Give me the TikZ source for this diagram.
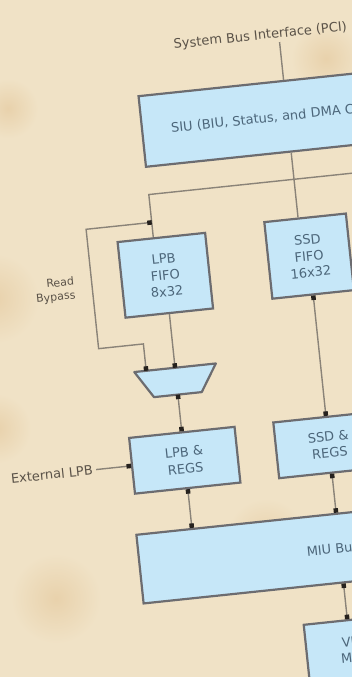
\documentclass[tikz,border=0pt]{standalone}
\usepackage{fontspec}
\setmainfont{DejaVu Sans}
\usetikzlibrary{arrows.meta,positioning}

\definecolor{paper}{RGB}{240,226,198}
\definecolor{stain}{RGB}{226,196,150}
\definecolor{boxfill}{RGB}{198,231,248}
\definecolor{boxedge}{RGB}{108,108,112}
\definecolor{wirecol}{RGB}{138,131,120}
\definecolor{boxtext}{RGB}{76,102,122}
\definecolor{labtext}{RGB}{90,82,72}
\definecolor{pincol}{RGB}{38,34,30}

\begin{document}
\begin{tikzpicture}[
  x=1pt, y=1pt, >={Square[length=4.5pt,width=4.5pt,color=pincol]},
  box/.style={draw=boxedge, line width=2.2pt, fill=boxfill, text=boxtext,
              font=\fontsize{13}{16.5}\selectfont, align=center, inner sep=2pt},
  lab/.style={text=labtext, font=\fontsize{13}{15}\selectfont},
  wire/.style={draw=wirecol, line width=1.4pt}
]
% paper
\useasboundingbox (-176,-338.5) rectangle (176,338.5);
\fill[paper] (-176,-338.5) rectangle (176,338.5);
\clip (-176,-338.5) rectangle (176,338.5);
\foreach \sx/\sy/\sr in {-182/40/45, -180/-90/35, -168/230/30, -120/-260/45, 90/-200/40, 150/280/35}
  \shade[inner color=stain!55!paper, outer color=paper] (\sx,\sy) circle (\sr);

\begin{scope}[transform canvas={rotate=6}]
\node[lab, anchor=west] (sysbus) at (25,292) {System Bus Interface (PCI)};
\node[box, anchor=north west, text width=282pt, align=left, inner xsep=29pt,
      minimum height=71pt] (siu) at (-13,246) {SIU (BIU, Status, and DMA Controllers)};
\node[box, minimum width=88pt, minimum height=76pt] (lpbfifo) at (-4,64) {LPB\\FIFO\\8x32};
\node[box, minimum width=82pt, minimum height=77pt] (ssdfifo) at (141,68) {SSD\\FIFO\\16x32};
% mux
\coordinate (mux) at (-4,-42.5);
\filldraw[box, line join=round] ([shift={(-41,13.5)}]mux) -- ([shift={(41,13.5)}]mux)
  -- ([shift={(24,-13.5)}]mux) -- ([shift={(-24,-13.5)}]mux) -- cycle;
\node[box, minimum width=106pt, minimum height=56pt] (lpbregs) at (-4,-122) {LPB \&\\REGS};
\node[box, minimum width=106pt, minimum height=56pt, below=121pt of ssdfifo] (ssdregs) {SSD \&\\REGS};
\node[box, anchor=north west, minimum width=388pt, minimum height=69pt] (miu) at (-61,-190) {MIU Bus};
\node[box, anchor=north west, minimum width=96pt, minimum height=60pt] (vmi) at (96,-297) {VMI\\MAC};
\node[lab, left=35pt of lpbregs] (extlpb) {External LPB};
\node[lab, anchor=east, align=right, font=\fontsize{11}{14}\selectfont] (bypass) at (-92,60) {Read\\Bypass};

\coordinate (pci) at (134,284);
\coordinate (tap) at (-12,146);
\coordinate (busR) at (330,146);
\coordinate (byp) at (-12,118);
\coordinate (bypB) at (-78,-2);
\coordinate (muxin) at ([yshift=13.5pt]mux);
\coordinate (muxb) at ([xshift=-29pt,yshift=13.5pt]mux);
\coordinate (muxout) at ([yshift=-13.5pt]mux);

\draw[wire] (pci) -- (pci |- siu.north);
\draw[wire] (pci |- siu.south) -- (pci |- ssdfifo.north);
\draw[wire] (busR) -- (tap) -- (tap |- lpbfifo.north);
\draw[wire, <->] (byp) -| (bypB) -| (muxb);
\draw[wire, ->] (lpbfifo.south) -- (muxin);
\draw[wire, <->] (muxout) -- (lpbregs.north);
\draw[wire, <->] (lpbregs.south) -- (lpbregs.south |- miu.north);
\draw[wire, ->] (extlpb) -- (lpbregs);
\draw[wire, <->] (ssdfifo.south) -- (ssdregs.north);
\draw[wire, <->] (ssdregs.south) -- (ssdregs.south |- miu.north);
\draw[wire, <->] (ssdregs.south |- miu.south) -- (ssdregs.south |- vmi.north);
\end{scope}
\end{tikzpicture}
\end{document}
